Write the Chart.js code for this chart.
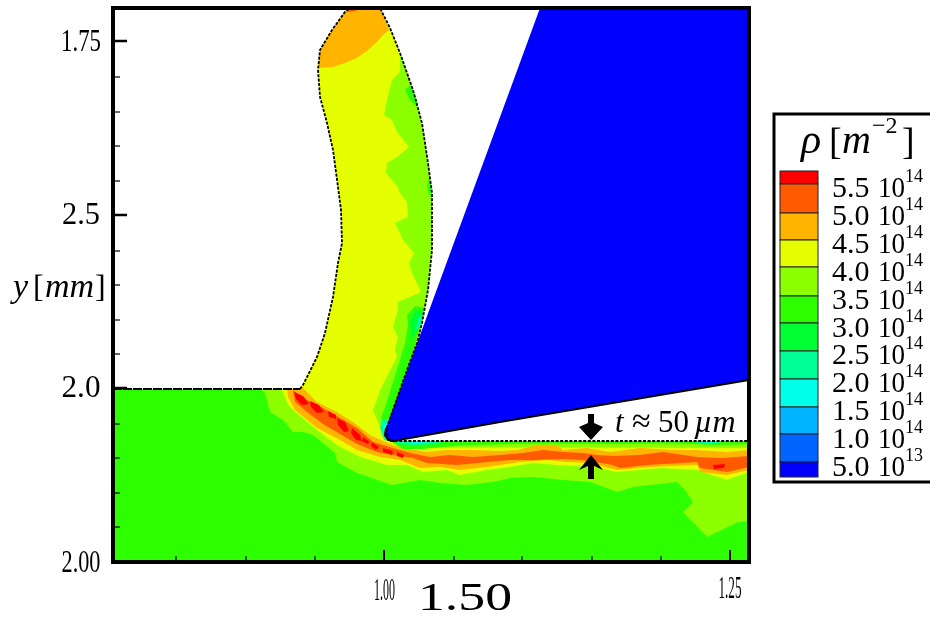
<!DOCTYPE html>
<html><head><meta charset="utf-8">
<style>html,body{margin:0;padding:0;background:#fff}canvas{display:block}</style>
<script src="https://cdn.jsdelivr.net/npm/chart.js@4"></script>
</head><body><canvas id="c" width="930" height="618"></canvas>
<script>
// Axis reading units: x 0..636, y 0..554, with the original printed tick labels.
const xMajor=[271,617], xMajorLabels=["1.00","1.25"];
const xMinor=[63,133,202,341,409,479,548];
const yMajor=[0,174,347,521], yMajorLabels=["2.00","2.0","2.5","1.75"];
const yMinor=[35,69,104,138,208,242,277,311,381,416,450,485];
const legendLabels=["5.5","5.0","4.5","4.0","3.5","3.0","2.5","2.0","1.5","1.0","5.0"];
const legendExps=["14","14","14","14","14","14","14","14","14","14","13"];
const RED="#ff0000",ORANGE="#ff5a00",AMBER="#ffb400",YELLOW="#e6ff00",LIME="#8cff00",GREEN="#2dff00",SPRING="#00ff32",TEAL="#00ff96",CYAN="#00ffe6",SKY="#00b4ff",AZURE="#0064ff",BLUE="#0000ff";
const legendColors=[RED,ORANGE,AMBER,YELLOW,LIME,GREEN,SPRING,TEAL,CYAN,SKY,AZURE,BLUE];

const chipLeft=[[187,173],[190,177],[204,205],[212,229],[220,265],[225,299],[229,319],[228,352],[225,375],[220,412],[214,439],[207,465],[205,492],[207,512],[219,532],[232,550],[237,554]];
const chipRight=[[267,554],[277,534],[287,509],[300,472],[309,439],[315,399],[319,369],[319,312],[315,272],[309,239],[304,219],[294,192],[280,152],[274,135],[274,125],[277,121]];
const surfaceFlat=[[0,173],[187,173]];
const grooveFloor=[[277,121],[636,121]];
const baseField=[[0,0],[636,0],[636,121],[277,121],[187,173],[0,173]];
const limeWide=[[149,172],[152,169],[157,150],[170,142],[180,130],[190,130],[200,127],[222,109],[224,100],[244,89],[279,77],[307,82],[327,79],[354,77],[380,80],[397,84],[420,85],[450,82],[477,80],[504,70],[520,75],[564,80],[572,72],[580,60],[570,50],[594,25],[625,40],[636,41],[636,121],[277,121],[187,173]];
const yellowLower=[[287,115],[636,114],[636,90],[614,82],[584,92],[547,94],[504,90],[480,95],[444,97],[420,99],[397,95],[374,92],[347,87],[334,92],[310,90],[294,97],[274,97],[247,105],[227,115],[214,124],[187,146],[175,157],[169,172]];
const chipLime=[[287,499],[287,490],[279,482],[274,462],[271,447],[279,442],[284,430],[296,415],[284,405],[274,399],[273,389],[285,375],[286,370],[294,360],[295,345],[282,339],[290,322],[301,309],[296,299],[299,289],[308,270],[285,260],[285,252],[280,235],[285,225],[282,212],[284,205],[267,172],[265,165],[260,152],[267,135],[272,129],[274,135],[280,152],[294,192],[304,219],[309,239],[315,272],[319,312],[319,369],[315,399],[309,439],[300,472],[287,509]];
const chipGreen=[[302,256],[294,247],[295,237],[292,219],[287,202],[272,155],[268,144],[272,137],[275,137],[287,167],[297,197],[307,237],[311,254]];
const chipSpring=[[302,252],[297,240],[299,222],[307,235],[311,250]];
const chipTeal=[[305,244],[302,230],[308,237],[310,248]];
const tipTeal=[[269,142],[267,134],[271,122],[276,121],[274,132],[278,144]];
const tipCyan=[[271,138],[270,130],[274,122],[275,130],[276,140]];
const tipAzure=[[272,134],[271,126],[275,122],[274,128]];
const spotGreenA=[[297,477],[292,472],[297,462],[304,455],[305,458],[301,470]];
const spotGreenB=[[316,384],[314,377],[315,370],[318,365],[318,377]];
const capAmber=[[205,494],[220,495],[232,499],[244,504],[255,512],[264,520],[270,527],[276,532],[267,554],[237,554],[232,550],[219,532],[207,512]];
const capOrange=[[233,550],[237,554],[249,554],[242,551]];
const bandAmber=[[174,173],[190,174],[204,160],[224,150],[240,140],[257,127],[272,120],[280,117],[290,114],[314,110],[334,112],[360,112],[387,111],[404,112],[424,117],[444,117],[450,112],[474,114],[497,110],[527,114],[560,112],[584,112],[614,110],[636,112],[636,92],[614,87],[587,90],[584,97],[537,95],[504,92],[477,99],[454,100],[434,102],[407,100],[387,97],[374,95],[347,92],[327,95],[307,94],[287,102],[267,105],[244,112],[227,122],[204,134],[182,152],[175,165]];
const bandOrange=[[180,172],[190,164],[210,154],[227,144],[244,134],[260,120],[280,114],[297,109],[317,105],[337,107],[360,105],[387,107],[410,109],[430,112],[450,110],[470,109],[484,107],[500,106],[527,107],[550,110],[584,105],[610,104],[636,106],[636,95],[614,90],[587,94],[584,100],[534,97],[507,94],[500,97],[470,102],[452,103],[420,102],[397,102],[364,99],[344,97],[314,99],[300,104],[280,107],[264,110],[244,118],[227,128],[210,138],[194,150],[182,160]];
const redA=[[181,170],[190,166],[196,158],[189,157],[183,163]];
const redB=[[197,161],[206,157],[211,150],[204,149],[198,155]];
const redC=[[215,151],[223,147],[223,143],[216,145]];
const redD=[[224,144],[232,140],[236,131],[231,130],[225,137]];
const redE=[[239,134],[247,127],[249,121],[243,122],[238,129]];
const redF=[[600,97],[612,98],[611,94],[601,93]];
const redG=[[250,125],[257,120],[254,118],[249,121]];
const redH=[[259,120],[266,115],[263,112],[258,116]];
const redI=[[270,114],[280,111],[279,107],[270,110]];
const redJ=[[284,110],[291,107],[290,104],[284,106]];
const stripGreen=[[277,121],[636,121],[636,118],[600,117],[560,119],[500,118],[440,119],[400,118],[350,117],[310,113],[290,113]];
const stripTealA=[[282,121],[330,121],[325,118],[300,117],[285,118]];
const stripTealB=[[580,121],[610,121],[605,119],[585,119]];
const stripCyanA=[[295,121],[320,121],[310,119],[300,119]];
const stripCyanB=[[590,121],[602,121],[597,119]];
const blade=[[427,554],[636,554],[636,182],[387,140],[280,121],[275,122],[272,127],[273,134]];
const arrowDown=[[475,148],[481,148],[481,139],[490,135],[478,122],[466,135],[475,139]];
const arrowUp=[[478,107],[490,92],[481,96],[481,83],[475,83],[475,96],[466,92]];

const xy=a=>a.map(p=>({x:p[0],y:p[1]}));
const fills=[
 [baseField,GREEN],[limeWide,LIME],
 [[...chipLeft,...chipRight.slice(0,-1),...yellowLower],YELLOW],
 [chipLime,LIME],[chipGreen,GREEN],[chipSpring,SPRING],[chipTeal,TEAL],
 [tipTeal,TEAL],[tipCyan,CYAN],[tipAzure,AZURE],
 [spotGreenA,GREEN],[spotGreenB,GREEN],[capAmber,AMBER],[capOrange,ORANGE],
 [bandAmber,AMBER],[bandOrange,ORANGE],
 [redA,RED],[redB,RED],[redC,RED],[redD,RED],[redE,RED],[redF,RED],[redG,RED],[redH,RED],[redI,RED],[redJ,RED],
 [stripGreen,GREEN],[stripTealA,TEAL],[stripTealB,TEAL],[stripCyanA,CYAN],[stripCyanB,CYAN],
 [blade,BLUE]
];
const datasets=fills.map(([pts,col])=>({data:xy(pts),showLine:true,fill:'shape',backgroundColor:col,borderWidth:0,pointRadius:0,tension:0}));
const dash=(pts,d)=>({data:xy(pts),showLine:true,fill:false,borderColor:"#000",borderWidth:1.8,borderDash:d,pointRadius:0,tension:0});
datasets.push(dash(surfaceFlat,[9,1]),dash([...chipLeft,...chipRight],[3,1.4]),dash(grooveFloor,[3,1.6]),dash(blade.slice(2),[]));
[arrowDown,arrowUp].forEach(a=>datasets.push({data:xy(a),showLine:true,fill:'shape',backgroundColor:"#000",borderWidth:0,pointRadius:0,tension:0}));
datasets.forEach((d,i)=>d.order=datasets.length-i);

const SERIF='"Liberation Serif"';
function fit(ctx,s,cx,base,font,w){ctx.save();ctx.font=font;const m=ctx.measureText(s).width;ctx.translate(cx,base);ctx.scale(w/m,1);ctx.textAlign="center";ctx.textBaseline="alphabetic";ctx.fillText(s,0,0);ctx.restore();}
function put(ctx,s,x,base,font){ctx.font=font;ctx.textAlign="left";ctx.textBaseline="alphabetic";ctx.fillText(s,x,base);}
const overlay={id:"overlay",afterDatasetsDraw(ch){
 const c=ch.ctx,X=ch.scales.x,Y=ch.scales.y;c.save();c.fillStyle="#000";c.strokeStyle="#000";
 const L=X.getPixelForValue(0),R=X.getPixelForValue(636),T=Y.getPixelForValue(554),B=Y.getPixelForValue(0);
 const line=(a,b,d,e,w)=>{c.lineWidth=w;c.beginPath();c.moveTo(a,b);c.lineTo(d,e);c.stroke();};
 yMajor.forEach(v=>{const p=Y.getPixelForValue(v);line(L,p,L+14,p,2.5);});
 yMinor.forEach(v=>{const p=Y.getPixelForValue(v);line(L,p,L+7,p,1.2);});
 xMajor.forEach(v=>{const p=X.getPixelForValue(v);line(p,B,p,B-12,2);});
 xMinor.forEach(v=>{const p=X.getPixelForValue(v);line(p,B,p,B-6,1.2);});
 c.lineWidth=4;c.strokeRect(L,T,R-L,B-T);
 const f=`32px ${SERIF}`;
 const yw=[39,39,38,40];
 const yb=[10,9,9,10];
 yMajor.forEach((v,i)=>fit(c,yMajorLabels[i],81,Y.getPixelForValue(v)+yb[i],f,yw[i]));
 fit(c,xMajorLabels[0],384.5,600,f,21);fit(c,xMajorLabels[1],730,598,f,23);
 fit(c,"1.50",465,610,`40px ${SERIF}`,94);
 put(c,"y",13,297,`italic 34px ${SERIF}`);put(c,"[",33,297,`32px ${SERIF}`);
 put(c,"mm",45,297,`italic 34px ${SERIF}`);put(c,"]",95,297,`32px ${SERIF}`);
 put(c,"t",615,432,`italic 31px ${SERIF}`);put(c,"≈",632,432,`34px ${SERIF}`);
 put(c,"50",658,432,`31px ${SERIF}`);put(c,"µm",694,432,`italic 32px ${SERIF}`);
 // legend panel, open on the right where it runs off the image
 c.lineWidth=3;c.beginPath();c.moveTo(931,114);c.lineTo(774,114);c.lineTo(774,482);c.lineTo(931,482);c.stroke();
 const edges=[171,184,213,240,267,296,323,351,379,407,434,462,477];
 legendColors.forEach((col,i)=>{c.fillStyle=col;c.fillRect(780,edges[i],38,edges[i+1]-edges[i]);c.strokeStyle="#222";c.lineWidth=1;c.strokeRect(780,edges[i],38,edges[i+1]-edges[i]);});
 c.fillStyle="#000";
 put(c,"ρ",801,153,`italic 42px ${SERIF}`);put(c,"[",829,154,`38px ${SERIF}`);
 put(c,"m",842,153,`italic 40px ${SERIF}`);put(c,"−2",872,133,`24px ${SERIF}`);put(c,"]",902,154,`38px ${SERIF}`);
 legendLabels.forEach((s,i)=>{const b=197+i*27.9;
  put(c,s,832,b,`30px ${SERIF}`);fit(c,"10",891.5,b,`30px ${SERIF}`,27);put(c,legendExps[i],905,b-15,`18px ${SERIF}`);});
 c.restore();
}};
new Chart(document.getElementById("c"),{type:"scatter",data:{datasets},plugins:[overlay],options:{
 responsive:false,animation:false,events:[],
 layout:{padding:{left:113,right:181,top:8,bottom:56}},
 plugins:{legend:{display:false},tooltip:{enabled:false},title:{display:false}},
 scales:{x:{type:"linear",min:0,max:636,display:false},y:{type:"linear",min:0,max:554,display:false}}
}});
</script></body></html>
